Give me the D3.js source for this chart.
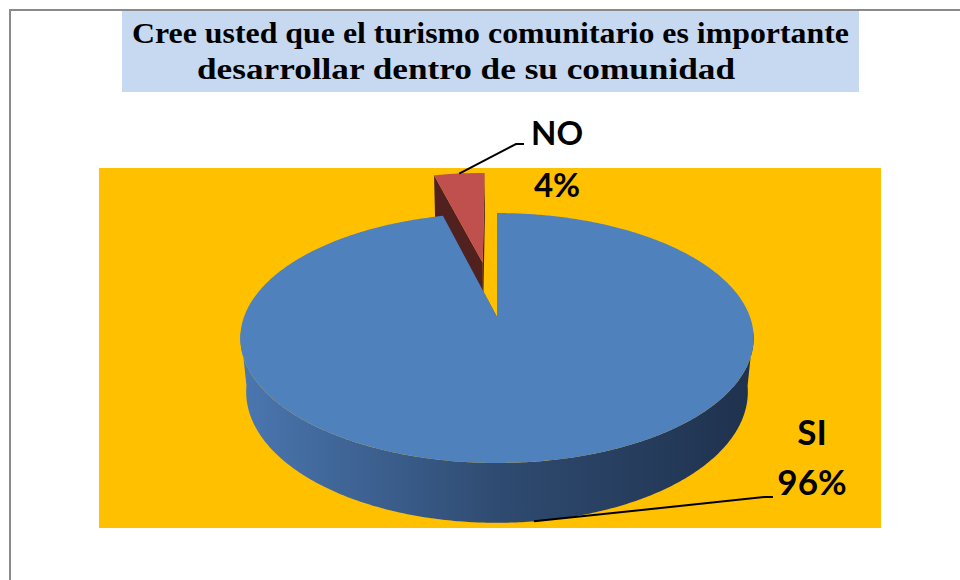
<html>
  <head>
    <script src="https://cdn.jsdelivr.net/npm/d3@7"></script>
    <style>
      body { margin: 0; background: #fff; }
    </style>
  </head>
  <body>
    <script>
      // chart data
      const categories = ["SI", "NO"];
      const values = [96, 4];
      const pctLabels = ["96%", "4%"];
      const titleLines = ["Cree usted que el turismo comunitario es importante", "desarrollar dentro de su comunidad"];

      const width = 960, height = 580;
      const svg = d3.select("body").append("svg")
          .attr("width", width)
          .attr("height", height);

      // outer frame (runs off the right and bottom edge)
      svg.append("rect")
          .attr("x", 10).attr("y", 10)
          .attr("width", 1000).attr("height", 1000)
          .attr("fill", "none")
          .attr("stroke", "#8a8a8a")
          .attr("stroke-width", 2);

      // title box
      svg.append("rect")
          .attr("x", 122).attr("y", 11)
          .attr("width", 737).attr("height", 81)
          .attr("fill", "#c6d9f1");

      const titleLayout = [{x: 132, y: 43, len: 717}, {x: 197, y: 79, len: 538}];
      svg.selectAll(".title")
        .data(titleLines)
        .join("text")
          .attr("class", "title")
          .attr("x", (d, i) => titleLayout[i].x)
          .attr("y", (d, i) => titleLayout[i].y)
          .attr("textLength", (d, i) => titleLayout[i].len)
          .attr("lengthAdjust", "spacingAndGlyphs")
          .style("font-family", "'Liberation Serif', 'Times New Roman', serif")
          .style("font-weight", "bold")
          .style("font-size", "30px")
          .style("fill", "#000")
          .text(d => d);

      // plot area
      svg.append("rect")
          .attr("x", 99).attr("y", 168)
          .attr("width", 782).attr("height", 360)
          .attr("fill", "#ffc000");

      // 3d pie projection
      const cx = 497, cy = 317, R = 253, depth = 62, D = 1320;
      const sinA = 0.48, cosA = Math.sqrt(1 - sinA * sinA);
      const explode = 123;

      function proj(X, Z, h) {
        const yp = Z * sinA - h * cosA;
        const zp = Z * cosA + h * sinA;
        const s = D / (D + zp);
        return [cx + X * s, cy - yp * s];
      }
      function rim(a, off, h) {
        return proj(off[0] + R * Math.sin(a), off[1] + R * Math.cos(a), h);
      }

      const pie = d3.pie().sort(null).value(d => d)(values);
      const offsets = pie.map((p, i) => {
        if (categories[i] !== "NO") return [0, 0];
        const mid = (p.startAngle + p.endAngle) / 2;
        return [explode * Math.sin(mid), explode * Math.cos(mid)];
      });

      const topColors = ["#4f81bd", "#c0504d"];
      const sideColors = ["#2e4a6f", "#512120"];

      const line = d3.line();
      function arcPts(a0, a1, off, h) {
        const n = Math.max(2, Math.ceil((a1 - a0) / 0.01));
        return d3.range(n + 1).map(k => rim(a0 + (a1 - a0) * k / n, off, h));
      }

      // silhouette angles of the outer wall
      const samples = d3.range(0, 2 * Math.PI, 0.002);
      const aRight = d3.greatest(samples, a => rim(a, [0, 0], 0)[0]) - 0.05;
      const aLeft = d3.least(samples, a => rim(a, [0, 0], 0)[0]) + 0.05;

      const defs = svg.append("defs");
      const grad = defs.append("linearGradient")
          .attr("id", "wall-blue")
          .attr("gradientUnits", "userSpaceOnUse")
          .attr("x1", cx - R).attr("x2", cx + R)
          .attr("y1", 0).attr("y2", 0);
      grad.append("stop").attr("offset", "0%").attr("stop-color", "#4a76af");
      grad.append("stop").attr("offset", "50%").attr("stop-color", "#2f4b71");
      grad.append("stop").attr("offset", "100%").attr("stop-color", "#1f324e");

      // draw back slice (exploded NO) first, then the big slice
      const order = [1, 0];
      order.forEach(i => {
        const p = pie[i], off = offsets[i];
        const g = svg.append("g").attr("class", "slice-" + categories[i]);
        const c0 = proj(off[0], off[1], 0), c1 = proj(off[0], off[1], depth);

        // cut faces
        if (p.endAngle - p.startAngle < 2 * Math.PI - 0.001) {
          [p.startAngle, p.endAngle].forEach(a => {
            g.append("path")
                .attr("d", line([c0, rim(a, off, 0), rim(a, off, depth), c1]) + "Z")
                .attr("fill", sideColors[i]);
          });
        }

        // outer wall (front part only)
        const w0 = Math.max(p.startAngle, aRight), w1 = Math.min(p.endAngle, aLeft);
        if (w1 > w0) {
          const pts = arcPts(w0, w1, off, 0).concat(arcPts(w0, w1, off, depth).reverse());
          g.append("path")
              .attr("d", line(pts) + "Z")
              .attr("fill", i === 0 ? "url(#wall-blue)" : sideColors[i]);
        }

        // top face
        g.append("path")
            .attr("d", line([c0].concat(arcPts(p.startAngle, p.endAngle, off, 0))) + "Z")
            .attr("fill", topColors[i]);
      });

      // labels and leader lines
      const labelPos = {
        NO: {x: 557, y1: 145, y2: 197, size: 33, elbow: [516, 144], end: [524, 144], h: 0},
        SI: {x: 812, y1: 445, y2: 495, size: 35, elbow: [765, 497], end: [773, 497], h: depth}
      };

      categories.forEach((c, i) => {
        const p = pie[i], lp = labelPos[c];
        const mid = (p.startAngle + p.endAngle) / 2;
        const start = rim(mid, offsets[i], lp.h);
        svg.append("path")
            .attr("d", line([start, lp.elbow, lp.end]))
            .attr("fill", "none")
            .attr("stroke", "#000")
            .attr("stroke-width", 2);

        const t = svg.append("text")
            .attr("text-anchor", "middle")
            .style("font-family", "Lato, 'Open Sans', sans-serif")
            .style("font-weight", "bold")
            .style("font-size", lp.size + "px")
            .style("fill", "#000");
        t.append("tspan").attr("x", lp.x).attr("y", lp.y1).text(c);
        t.append("tspan").attr("x", lp.x).attr("y", lp.y2).text(pctLabels[i]);
      });
    </script>
  </body>
</html>
